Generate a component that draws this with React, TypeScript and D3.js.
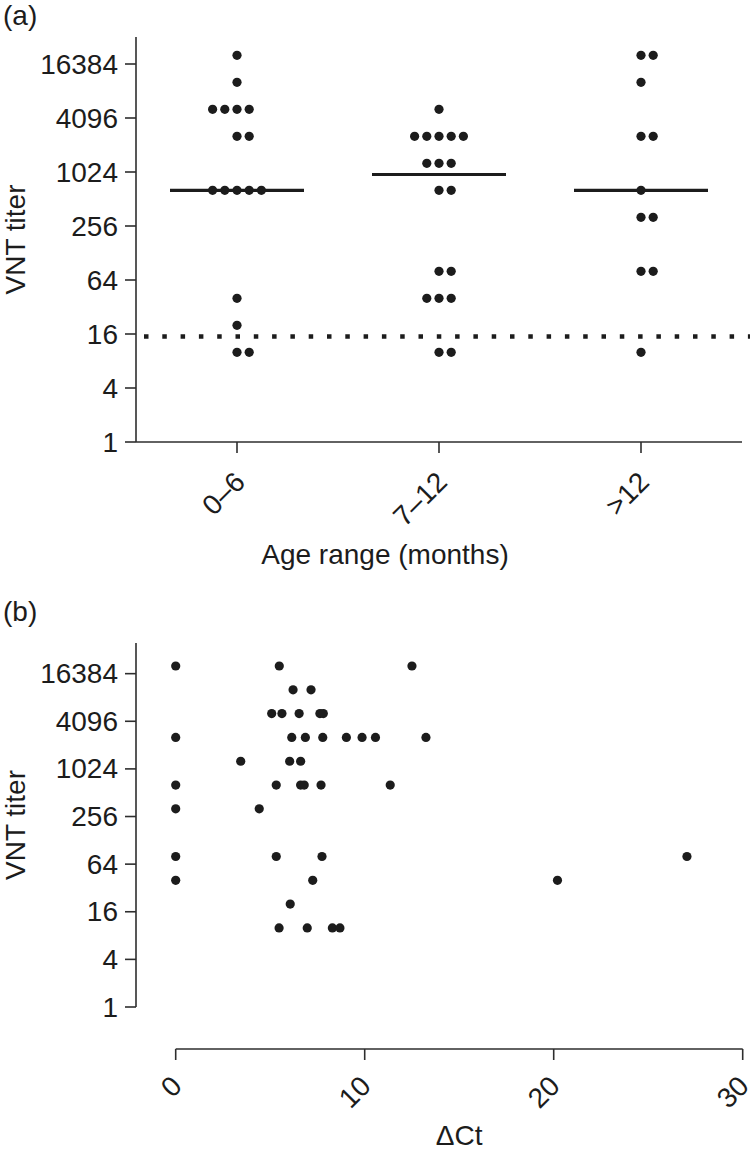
import React from "react";
import * as d3 from "d3";

// ---------- Data ----------
const categories = ["0–6", "7–12", ">12"];
const titers0to6 = [20480, 10240, 5120, 5120, 5120, 5120, 2560, 2560, 640, 640, 640, 640, 640, 40, 20, 10, 10];
const titers7to12 = [5120, 2560, 2560, 2560, 2560, 2560, 1280, 1280, 1280, 640, 640, 80, 80, 40, 40, 40, 10, 10];
const titersOver12 = [20480, 20480, 10240, 2560, 2560, 640, 320, 320, 80, 80, 10];
const groupTiters = [titers0to6, titers7to12, titersOver12];
const detectionLimit = 15;

const deltaCt = [
  0, 5.48, 12.5,
  6.21, 7.16,
  5.08, 5.62, 6.53, 7.63, 7.81,
  0, 6.14, 6.86, 7.78, 9.03, 9.86, 10.57, 13.24,
  3.44, 6.03, 6.61,
  0, 5.32, 6.61, 6.8, 7.69, 11.35,
  0, 4.42,
  0, 5.32, 7.74, 27.05,
  0, 7.25, 20.2,
  6.06,
  5.47, 6.96, 8.29, 8.69,
];
const titerB = [
  20480, 20480, 20480,
  10240, 10240,
  5120, 5120, 5120, 5120, 5120,
  2560, 2560, 2560, 2560, 2560, 2560, 2560, 2560,
  1280, 1280, 1280,
  640, 640, 640, 640, 640, 640,
  320, 320,
  80, 80, 80, 80,
  40, 40, 40,
  20,
  10, 10, 10, 10,
];

const yTicks = [1, 4, 16, 64, 256, 1024, 4096, 16384];
const xTicksB = [0, 10, 20, 30];

// ---------- Layout ----------
const FONT = "'Liberation Sans', Arial, Helvetica, sans-serif";
const FS = 28;
const INK = "#1c1c1c";
const AXIS = "#2e2e2e";
const R = 4.6;
const DOT_STEP = 12.2;
const fillOrder = [0, 1, -1, -2, 2, 3, -3];

const axisLeft = 136;
const axisRight = 742;

// Panel a scales
const yA = d3.scaleLog().base(2).domain([1, 32768]).range([442, 37]);
const xA = d3.scalePoint().domain(categories).range([237, 641]);
// Panel b scales
const yB = d3.scaleLog().base(2).domain([1, 40000]).range([1007, 643]);
const xB = d3.scaleLinear().domain([0, 30]).range([175.7, 742.7]);

function dotOffsets(values: number[]) {
  const counts = new Map<number, number>();
  return values.map((v) => {
    const k = counts.get(v) || 0;
    counts.set(v, k + 1);
    return fillOrder[k] * DOT_STEP;
  });
}

function YAxis({ scale, x }: { scale: any; x: number }) {
  const [y0, y1] = scale.range();
  return (
    <g>
      <line x1={x} x2={x} y1={y0} y2={y1} stroke={AXIS} strokeWidth={1.6} />
      {yTicks.map((t) => (
        <g key={t}>
          <line x1={x - 11} x2={x} y1={scale(t)} y2={scale(t)} stroke={AXIS} strokeWidth={1.6} />
          <text
            x={x - 18}
            y={scale(t)}
            textAnchor="end"
            dominantBaseline="central"
            fontSize={FS}
            fontFamily={FONT}
            fill={INK}
          >
            {t}
          </text>
        </g>
      ))}
    </g>
  );
}

export default function App() {
  const aMid = (yA.range()[0] + yA.range()[1]) / 2;
  const bMid = (yB.range()[0] + yB.range()[1]) / 2;
  const xAxisB = 1049;
  return (
    <svg
      width={750}
      height={1150}
      style={{ position: "absolute", left: 0, top: 0, background: "#fff" }}
    >
      <rect width={750} height={1150} fill="#fff" />
      {/* ---------- Panel (a) ---------- */}
      <text x={3} y={25} fontSize={FS} fontFamily={FONT} fill={INK}>(a)</text>
      <text
        transform={`translate(25, ${aMid}) rotate(-90)`}
        textAnchor="middle"
        fontSize={FS}
        fontFamily={FONT}
        fill={INK}
      >
        VNT titer
      </text>
      <YAxis scale={yA} x={axisLeft} />
      <line x1={axisLeft} x2={axisRight} y1={yA(1)} y2={yA(1)} stroke={AXIS} strokeWidth={1.6} />
      {categories.map((c) => (
        <g key={c}>
          <line x1={xA(c)} x2={xA(c)} y1={yA(1)} y2={yA(1) + 11} stroke={AXIS} strokeWidth={1.6} />
          <text
            transform={`translate(${(xA(c) as number) + 3}, 477) rotate(-45)`}
            textAnchor="end"
            dominantBaseline="central"
            fontSize={FS}
            fontFamily={FONT}
            fill={INK}
          >
            {c}
          </text>
        </g>
      ))}
      <text x={385} y={564} textAnchor="middle" fontSize={FS} fontFamily={FONT} fill={INK}>
        Age range (months)
      </text>
      {/* detection limit */}
      <line
        x1={144}
        x2={750}
        y1={yA(detectionLimit)}
        y2={yA(detectionLimit)}
        stroke={INK}
        strokeWidth={4.5}
        strokeDasharray="4.5 13.8"
      />
      {groupTiters.map((vals, gi) => {
        const cx = xA(categories[gi]) as number;
        const offs = dotOffsets(vals);
        const med = d3.median(vals) as number;
        return (
          <g key={gi}>
            <line x1={cx - 67} x2={cx + 67} y1={yA(med)} y2={yA(med)} stroke={INK} strokeWidth={3.2} />
            {vals.map((v, i) => (
              <circle key={i} cx={cx + offs[i]} cy={yA(v)} r={R} fill={INK} />
            ))}
          </g>
        );
      })}

      {/* ---------- Panel (b) ---------- */}
      <text x={3} y={621} fontSize={FS} fontFamily={FONT} fill={INK}>(b)</text>
      <text
        transform={`translate(25, ${bMid}) rotate(-90)`}
        textAnchor="middle"
        fontSize={FS}
        fontFamily={FONT}
        fill={INK}
      >
        VNT titer
      </text>
      <YAxis scale={yB} x={axisLeft} />
      <line x1={xB(0)} x2={xB(30)} y1={xAxisB} y2={xAxisB} stroke={AXIS} strokeWidth={1.6} />
      {xTicksB.map((t) => (
        <g key={t}>
          <line x1={xB(t)} x2={xB(t)} y1={xAxisB} y2={xAxisB + 11} stroke={AXIS} strokeWidth={1.6} />
          <text
            transform={`translate(${xB(t) + 1}, 1081) rotate(-45)`}
            textAnchor="end"
            dominantBaseline="central"
            fontSize={FS}
            fontFamily={FONT}
            fill={INK}
          >
            {t}
          </text>
        </g>
      ))}
      <text x={xB(15)} y={1145} textAnchor="middle" fontSize={FS} fontFamily={FONT} fill={INK}>
        ΔCt
      </text>
      {deltaCt.map((d, i) => (
        <circle key={i} cx={xB(d)} cy={yB(titerB[i])} r={R} fill={INK} />
      ))}
    </svg>
  );
}
